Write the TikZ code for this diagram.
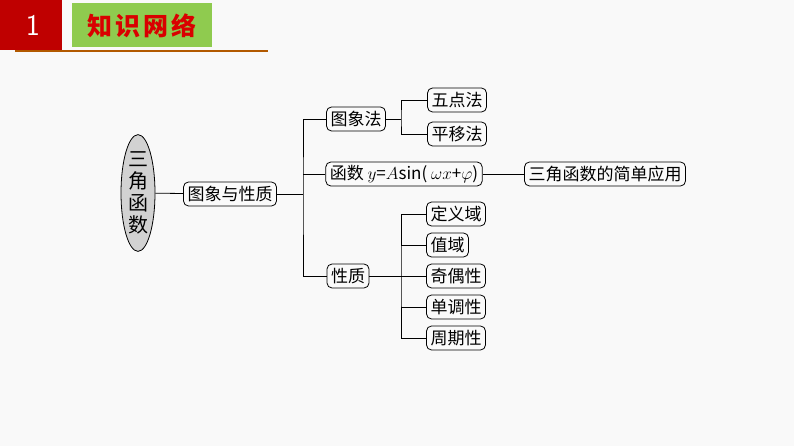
\documentclass[tikz,border=0pt]{standalone}
\usepackage{fontspec}
\newfontfamily\cjk{Noto Sans CJK SC}
\usetikzlibrary{shapes.geometric}
\definecolor{hgreen}{HTML}{8FCB4F}
\begin{document}
\begin{tikzpicture}[x=1pt,y=-1pt,
  bx/.style={draw,thick,rounded corners=5pt,fill=white!96!gray,font=\cjk\fontsize{17}{19}\selectfont,inner xsep=4pt,inner ysep=1pt,minimum height=24pt},
  ln/.style={thick}]
\fill[white!95!gray] (0,0) rectangle (794,446);
\useasboundingbox (0,0) rectangle (794,446);
% header
\fill[red!75!black] (0,0) rectangle (62,50);
\node[text=white,font=\sffamily\fontsize{30}{32}\selectfont] (num) at (33,25) {1};
\fill[hgreen] (72,3) rectangle (212,47);
\node[text=red!85!black,font=\cjk\bfseries\fontsize{25}{27}\selectfont] (title) at (142,26) {知\kern3pt识\kern3pt网\kern3pt络};
\draw[line width=2.5pt,orange!70!black] (15,51) -- (268,51);
% tree
\node[draw,thick,ellipse,fill=gray!35,minimum width=34pt,minimum height=100pt,inner sep=0pt,align=center,font=\cjk\fontsize{20}{22}\selectfont] (root) at (138,193) {三\\角\\函\\数};
\node[bx] (a) at (230,194) {图象与性质};
\node[bx] (b1) at (356,119) {图象法};
\node[bx] (b2) at (404,174) {函数 $y$=$A$sin( $\omega x$+$\varphi$)};
\node[bx] (b3) at (348,276) {性质};
\node[bx] (c1) at (457,100) {五点法};
\node[bx] (c2) at (457,134) {平移法};
\node[bx] (d) at (605,174) {三角函数的简单应用};
\node[bx] (e1) at (456,214) {定义域};
\node[bx,anchor=west] (e2) at (e1.west|-0,245) {值域};
\node[bx] (e3) at (456,276) {奇偶性};
\node[bx] (e4) at (456,307) {单调性};
\node[bx] (e5) at (456,338) {周期性};
\coordinate (j1) at (303,194);
\draw[ln] (root) -- (a);
\draw[ln] (a) -- (j1);
\draw[ln] (b1.west) -| (j1) |- (b3.west);
\draw[ln] (b2.west) -- (b2.west-|j1);
\draw[ln] (b2) -- (d);
\coordinate (j2) at (401,119);
\draw[ln] (b1) -- (j2);
\draw[ln] (c1.west) -| (j2) |- (c2.west);
\coordinate (j3) at (401,276);
\draw[ln] (b3) -- (e3);
\draw[ln] (e1.west) -| (j3) |- (e5.west);
\draw[ln] (e2.west) -- (e2.west-|j3);
\draw[ln] (e4.west) -- (e4.west-|j3);
\end{tikzpicture}
\end{document}
